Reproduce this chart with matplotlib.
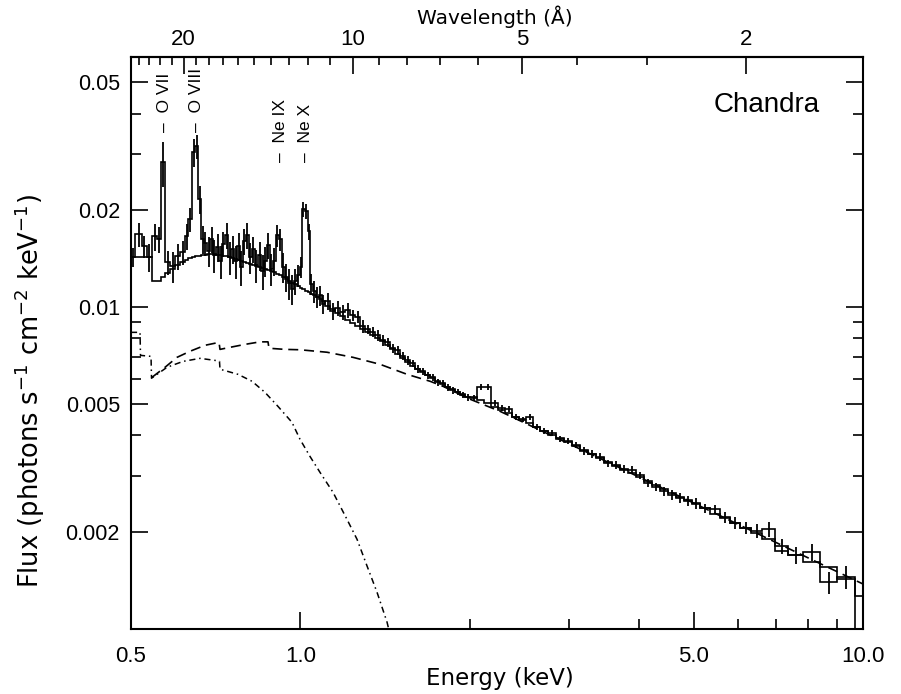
import matplotlib
matplotlib.use('Agg')
import numpy as np
import matplotlib.pyplot as plt
from matplotlib.ticker import NullFormatter

# Chandra spectrum: bin edges (keV), data flux, 1-sigma errors, folded model
energy_edges = [
    0.500, 0.5083, 0.5230, 0.5338, 0.5449, 0.5562, 0.5654, 0.5747, 0.5866, 0.5987,
    0.6111, 0.6237, 0.6314, 0.6418, 0.6498, 0.6578, 0.6659, 0.6741,
    0.6824, 0.6909, 0.6994, 0.7080, 0.7168, 0.7256, 0.7346, 0.7437, 0.7529, 0.7622,
    0.7716, 0.7811, 0.7907, 0.8005, 0.8104, 0.8204, 0.8305, 0.8408, 0.8512, 0.8617,
    0.8723, 0.8831, 0.8940, 0.9050, 0.9162, 0.9275, 0.9390, 0.9506, 0.9623, 0.9742,
    0.9862, 0.9984, 1.0066, 1.0190, 1.0316, 1.0401, 1.0529, 1.0659, 1.0791, 1.0924, 1.1062,
    1.1291, 1.1524, 1.1763, 1.2006, 1.2254, 1.2508, 1.2766, 1.3030, 1.3300, 1.3575,
    1.3856, 1.4142, 1.4435, 1.4733, 1.5038, 1.5349, 1.5667, 1.5991, 1.6321, 1.6659,
    1.7003, 1.7355, 1.7714, 1.8080, 1.8454, 1.8836, 1.9226, 1.9623, 2.0027,
    2.0609, 2.1208, 2.1825, 2.2459, 2.3112, 2.3784, 2.4475, 2.5187, 2.5919, 2.6672,
    2.7560, 2.8477, 2.9425, 3.0404, 3.1416, 3.2462, 3.3543, 3.4659, 3.5813, 3.7005,
    3.8236, 3.9509, 4.0824, 4.2182, 4.3586, 4.5037, 4.6536, 4.8084, 4.9685, 5.1338,
    5.3475, 5.5709, 5.8037, 6.0462, 6.3246, 6.6158, 6.9775, 7.3589,
    7.8249, 8.3886, 8.9930, 9.6806, 10.0,
]

data_flux = [
    0.01430, 0.01685, 0.01547, 0.01430, 0.01661, 0.01626, 0.02821, 0.01380, 0.01341,
    0.01440, 0.01482, 0.01661, 0.01876, 0.03030, 0.03163, 0.02165, 0.01626,
    0.01580, 0.01492, 0.01626, 0.01450, 0.01536, 0.01389, 0.01569, 0.01673, 0.01430, 0.01514,
    0.01389, 0.01547, 0.01331, 0.01603, 0.01673, 0.01430, 0.01514, 0.01350, 0.01450, 0.01293,
    0.01389, 0.01558, 0.01312, 0.01389, 0.01673, 0.01626, 0.01331, 0.01239, 0.01187, 0.01137,
    0.01204, 0.01257, 0.01331, 0.02015, 0.01987, 0.01722, 0.01179, 0.01121, 0.01074, 0.01089,
    0.01021,
    0.01044, 0.00972, 0.00993, 0.00965, 0.00979, 0.00944, 0.00931, 0.00873, 0.00854, 0.00836,
    0.00818, 0.00790, 0.00778, 0.00746, 0.00735, 0.00704, 0.00684, 0.00670, 0.00642, 0.00632,
    0.00615, 0.00606, 0.00585, 0.00580, 0.00564, 0.00552, 0.00544, 0.00533, 0.00525,
    0.005214, 0.005640, 0.005640, 0.005030, 0.004853, 0.004819, 0.004551, 0.004486, 0.004551,
    0.004237, 0.004117, 0.004059, 0.003888, 0.003833, 0.003725, 0.003568, 0.003493, 0.003418,
    0.003274, 0.003228, 0.003137, 0.003115, 0.003006, 0.002839, 0.002758, 0.002680, 0.002605,
    0.002550, 0.002495, 0.002459, 0.002373, 0.002356, 0.002225, 0.002132, 0.002057, 0.002013,
    0.002043, 0.001809, 0.001696, 0.001733, 0.001398, 0.001449, 0.00090,
]

data_err = [
    0.0010, 0.0014, 0.0012, 0.0014, 0.0016, 0.0015, 0.0045, 0.0012, 0.0015,
    0.0013, 0.0013, 0.0015, 0.0016, 0.0030, 0.0028, 0.0022, 0.0016,
    0.0014, 0.0016, 0.0015, 0.0017, 0.0015, 0.0016, 0.0014, 0.0016, 0.0017, 0.0015,
    0.0016, 0.0015, 0.0017, 0.0015, 0.0016, 0.0016, 0.0014, 0.0016, 0.0015, 0.0016,
    0.0015, 0.0014, 0.0015, 0.0014, 0.0013, 0.0013, 0.0014, 0.0012, 0.0013, 0.0012,
    0.0011, 0.0010, 0.0010, 0.0011, 0.0011, 0.0010, 0.0009, 0.0009, 0.0008, 0.0008,
    0.0007,
    0.0006, 0.0006, 0.0005, 0.0005, 0.0005, 0.0004, 0.0004, 0.0004, 0.0003, 0.0003,
    0.0003, 0.0003, 0.00025, 0.00025, 0.00022, 0.0002, 0.0002, 0.00018, 0.00018, 0.00016,
    0.00015, 0.00015, 0.00014, 0.00014, 0.00013, 0.00013, 0.00012, 0.00012, 0.00012,
    0.00011, 0.00012, 0.00012, 0.00011, 0.00010, 0.00010, 0.00010, 0.00009, 0.00010,
    0.00009, 0.00009, 0.00009, 0.00008, 0.00008, 0.00008, 0.00010, 0.00010, 0.00010,
    0.00009, 0.00009, 0.00009, 0.00009, 0.00008, 0.00008, 0.00008, 0.00009, 0.00009,
    0.00009, 0.00009, 0.00009, 0.00008, 0.00008, 0.00009, 0.00009, 0.00009, 0.00010,
    0.00011, 0.00010, 0.00010, 0.00011, 0.00011, 0.00012, 0.0,
]

model_flux = [
    0.01430, 0.01430, 0.01430, 0.01430, 0.01210, 0.01210, 0.01239, 0.01275, 0.01312,
    0.01350, 0.01380, 0.01399, 0.01420, 0.01430, 0.01440, 0.01445, 0.01450,
    0.01455, 0.01461, 0.01461, 0.01461, 0.01455, 0.01450, 0.01445, 0.01440, 0.01430, 0.01420,
    0.01409, 0.01399, 0.01389, 0.01380, 0.01370, 0.01360, 0.01350, 0.01341, 0.01331, 0.01322,
    0.01312, 0.01303, 0.01293, 0.01284, 0.01271, 0.01257, 0.01239, 0.01222, 0.01204, 0.01191,
    0.01179, 0.01162, 0.01149, 0.01137, 0.01125, 0.01113, 0.01101, 0.01089, 0.01074, 0.01059,
    0.01044,
    0.01009, 0.00985, 0.00961, 0.00937, 0.00916, 0.00896, 0.00876, 0.00858, 0.00839, 0.00821,
    0.00804, 0.00784, 0.00762, 0.00740, 0.00718, 0.00698, 0.00677, 0.00658, 0.00642, 0.00628,
    0.00615, 0.00602, 0.00589, 0.00577, 0.00567, 0.00557, 0.00547, 0.00538, 0.00528,
    0.005251, 0.005139, 0.005030, 0.004888, 0.004785, 0.004683, 0.004551, 0.004454, 0.004360,
    0.004237, 0.004117, 0.004001, 0.003916, 0.003806, 0.003698, 0.003594, 0.003493, 0.003394,
    0.003298, 0.003205, 0.003115, 0.003049, 0.002963, 0.002880, 0.002798, 0.002719, 0.002642,
    0.002568, 0.002513, 0.002442, 0.002373, 0.002273, 0.002209, 0.002132, 0.002057, 0.001985,
    0.001902, 0.001745, 0.001696, 0.001613, 0.001556, 0.001428, 0.001265,
]

# power-law component (dashed)
pl_energy = [0.5449, 0.5747, 0.6036, 0.6366, 0.6769, 0.7168, 0.7197, 0.7500, 0.7973, 0.8477,
             0.8759, 0.8795, 0.9390, 0.9984, 1.1153, 1.2405, 1.3856, 1.5475, 1.7003, 1.7933,
             2.0027, 2.2641, 3.4091, 5.1330, 7.7314, 10.0]
pl_flux = [0.00606, 0.00651, 0.00699, 0.00730, 0.00762, 0.00778, 0.00740, 0.00751, 0.00767, 0.00781,
           0.00781, 0.00746, 0.00740, 0.00738, 0.00725, 0.00699, 0.00665, 0.00619, 0.00589, 0.00568,
           0.00518, 0.00475, 0.00339, 0.00241, 0.00171, 0.00138]

# thermal component (dash-dot)
th_energy = [0.500, 0.5188, 0.5198, 0.5427, 0.5438, 0.5794, 0.6186, 0.6632, 0.7051, 0.7182,
             0.7197, 0.7748, 0.8204, 0.8652, 0.9125, 0.9662, 0.9984, 1.0401, 1.0835, 1.1430,
             1.2105, 1.2611, 1.3137, 1.3687, 1.4258, 1.4435]
th_flux = [0.00836, 0.00836, 0.00709, 0.00704, 0.00602, 0.00651, 0.00679, 0.00694, 0.00684, 0.00679,
           0.00642, 0.00619, 0.00589, 0.00544, 0.00492, 0.00439, 0.00389, 0.00344, 0.00307, 0.00266,
           0.00219, 0.00190, 0.00157, 0.00130, 0.00105, 0.00096]

line_names = ['O VII', 'O VIII', 'Ne IX', 'Ne X']
line_energy = [0.574, 0.654, 0.922, 1.022]
line_label_flux = [0.0352, 0.0352, 0.0282, 0.0282]

energy_ticks = [0.5, 1.0, 5.0, 10.0]
energy_ticklabels = ['0.5', '1.0', '5.0', '10.0']
energy_minor = [2, 3, 4, 6, 7, 8, 9]
flux_ticks = [0.002, 0.005, 0.01, 0.02, 0.05]
flux_ticklabels = ['0.002', '0.005', '0.01', '0.02', '0.05']
flux_minor = [0.003, 0.004, 0.006, 0.007, 0.008, 0.009, 0.03, 0.04]
wave_ticks = [20, 10, 5, 2]
wave_minor = [3, 4, 6, 7, 8, 9, 11, 12, 13, 14, 15, 16, 17, 18, 19, 21, 22, 23, 24]

HC = 12.398  # keV * Angstrom

helv = ['Liberation Sans', 'DejaVu Sans']

fig = plt.figure(figsize=(9.01, 6.94), dpi=100)
ax = fig.add_axes([131 / 901, 65 / 694, 732 / 901, 572 / 694])
ax.set_xscale('log')
ax.set_yscale('log')

edges = np.array(energy_edges)
centers = np.sqrt(edges[:-1] * edges[1:])

ax.stairs(data_flux, edges, baseline=None, color='k', lw=1.2)
ax.stairs(model_flux, edges, baseline=None, color='k', lw=1.2)
ax.errorbar(centers, data_flux, yerr=data_err, fmt='none', ecolor='k', elinewidth=1.3)
ax.plot(pl_energy, pl_flux, color='k', lw=1.2, ls=(0, (6, 3.5)))
ax.plot(th_energy, th_flux, color='k', lw=1.1, ls=(0, (4, 2.5, 1, 2.5)))

for name, e, f in zip(line_names, line_energy, line_label_flux):
    ax.text(e, f, '\u2013  ' + name, rotation=90, ha='center', va='bottom',
            fontsize=12.5, family=helv)

ax.text(0.941, 0.916, 'Chandra', transform=ax.transAxes, ha='right', va='center',
        fontsize=20, family=helv)

ax.set_xlim(0.5, 10.0)
ax.set_ylim(0.001, 0.06)

ax.set_xticks(energy_ticks, energy_ticklabels, fontsize=16, family=helv)
ax.set_xticks(energy_minor, minor=True)
ax.xaxis.set_minor_formatter(NullFormatter())
ax.set_yticks(flux_ticks, flux_ticklabels, fontsize=15.5, family=helv)
ax.set_yticks(flux_minor, minor=True)
ax.yaxis.set_minor_formatter(NullFormatter())

ax.tick_params(which='both', direction='in', top=False, right=True, width=1.2)
ax.tick_params(which='major', length=12)
ax.tick_params(which='minor', length=7)
ax.tick_params(axis='x', which='major', pad=12)
ax.tick_params(axis='y', which='major', pad=8)
for sp in ax.spines.values():
    sp.set_linewidth(1.5)

sec = ax.secondary_xaxis('top', functions=(lambda e: HC / e, lambda w: HC / w))
sec.set_xticks(wave_ticks, [str(w) for w in wave_ticks], fontsize=16, family=helv)
sec.set_xticks(wave_minor, minor=True)
sec.xaxis.set_minor_formatter(NullFormatter())
sec.tick_params(which='both', direction='in', width=1.2)
sec.tick_params(which='major', length=12, pad=5)
sec.tick_params(which='minor', length=6)
sec.spines['top'].set_linewidth(1.5)
sec.set_xlabel('Wavelength (\u00c5)', fontsize=14.5, family='DejaVu Sans')
sec.xaxis.set_label_coords(0.497, 1.057, transform=ax.transAxes)

ax.set_xlabel('Energy (keV)', fontsize=16.5, family='DejaVu Sans')
ax.xaxis.set_label_coords(0.504, -0.066)
ax.set_ylabel('Flux (photons s$^{-1}$ cm$^{-2}$ keV$^{-1}$)', fontsize=18.5, family='DejaVu Sans')
ax.yaxis.set_label_coords(-0.115, 0.416)

fig.savefig('out.png', dpi=100)
